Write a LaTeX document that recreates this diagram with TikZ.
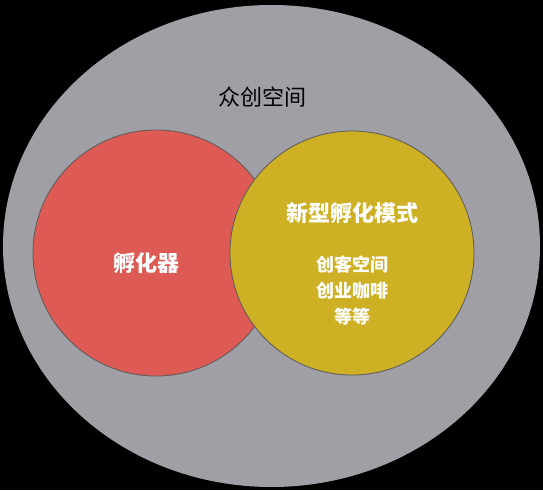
\documentclass[tikz,border=0pt]{standalone}
\usepackage{fontspec}
\newfontfamily\cjk{Noto Sans CJK SC}
\usetikzlibrary{shapes.geometric}
\definecolor{spacegray}{RGB}{160,159,165}
\definecolor{incubred}{RGB}{222,90,84}
\definecolor{modeyellow}{RGB}{206,176,36}
\begin{document}
\begin{tikzpicture}[x=1pt, y=1pt,
        space/.style={ellipse, fill=spacegray, minimum width=537pt, minimum height=482pt, inner sep=0pt},
        circA/.style={circle, draw=black!65, fill=incubred, line width=0.8pt, minimum size=246pt, inner sep=0pt},
        circB/.style={circle, draw=black!65, fill=modeyellow, line width=0.8pt, minimum size=244pt, inner sep=0pt},
        title/.style={font=\cjk\fontsize{22}{26}\selectfont, text=black},
        label/.style={font=\cjk\bfseries\fontsize{22}{26}\selectfont, text=white},
        sublabel/.style={font=\cjk\bfseries\fontsize{18}{26}\selectfont, text=white, align=center}
    ]
        \fill[black] (0,0) rectangle (543,490);
        \useasboundingbox (0,0) rectangle (543,490);

        % Espacio exterior
        \node[space] (space) at (271.5,244) {};

        % Circulos
        \node[circA] (incub) at (156,237) {};
        \node[circB] (newmode) at (352,237) {};

        % Textos
        \node[title] (spacetext) at (262,393) {众创空间};
        \node[label] (incubtext) at (146,227) {孵化器};
        \node[label] (modetext) at (352,277) {新型孵化模式};
        \node[sublabel] (examples) at (352,199) {创客空间\\创业咖啡\\等等};
    \end{tikzpicture}
\end{document}
